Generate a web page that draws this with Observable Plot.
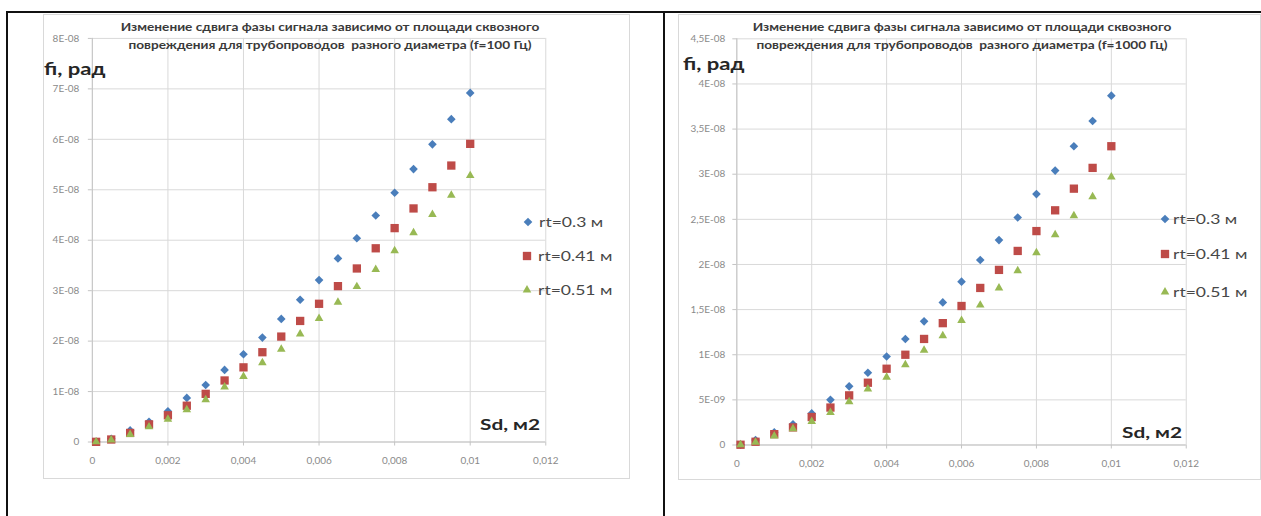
<!DOCTYPE html>
<html>
<head>
<meta charset="utf-8">
<script src="https://cdn.jsdelivr.net/npm/d3@7"></script>
<script src="https://cdn.jsdelivr.net/npm/@observablehq/plot@0.6"></script>
<style>
  html, body { margin: 0; padding: 0; background: #fff; }
  body { position: relative; width: 1261px; height: 516px; overflow: hidden; font-family: Lato, "Open Sans", sans-serif; }
  .bline { position: absolute; background: #111; }
  .box { position: absolute; border: 1px solid #d9d9d9; box-sizing: border-box; background: #fff; }
  .box svg { position: absolute; left: -1px; top: -1px; }
  .title { position: absolute; width: 600px; text-align: center; font-weight: 700; font-size: 10.5px; line-height: 18px; color: #3a3a3a; white-space: pre; transform: scaleX(1.3); transform-origin: 50% 50%; }
  .atitle { position: absolute; font-weight: 700; color: #262626; white-space: pre; transform: scaleX(1.3); transform-origin: 0 50%; }
  .leg { position: absolute; height: 20px; line-height: 20px; white-space: pre; }
  .leg svg { position: absolute; left: 0; top: 0; }
  .leg span { position: absolute; font-size: 13.5px; color: #484848; transform: scaleX(1.3); transform-origin: 0 50%; }
</style>
</head>
<body>
<div class="bline" style="left:6px;top:11px;width:1255px;height:2px"></div>
<div class="bline" style="left:6px;top:11px;width:2px;height:505px"></div>
<div class="bline" style="left:663px;top:11px;width:2px;height:505px"></div>
<script>
// ---------- data ----------
const sd = [0.0001, 0.0005, 0.001, 0.0015, 0.002, 0.0025, 0.003, 0.0035, 0.004, 0.0045, 0.005,
            0.0055, 0.006, 0.0065, 0.007, 0.0075, 0.008, 0.0085, 0.009, 0.0095, 0.01];
const seriesNames = ["rt=0.3 м", "rt=0.41 м", "rt=0.51 м"];

// phase shift, in units of 1E-08 rad, f = 100 Hz
const fi100_rt030 = [0.005, 0.065, 0.23, 0.40, 0.61, 0.875, 1.13, 1.43, 1.74, 2.07, 2.44, 2.82, 3.21, 3.64, 4.04, 4.49, 4.94, 5.41, 5.90, 6.40, 6.92];
const fi100_rt041 = [0.004, 0.05, 0.18, 0.35, 0.53, 0.72, 0.955, 1.22, 1.48, 1.78, 2.09, 2.40, 2.74, 3.09, 3.44, 3.84, 4.24, 4.63, 5.05, 5.48, 5.91];
const fi100_rt051 = [0.003, 0.04, 0.15, 0.30, 0.45, 0.64, 0.84, 1.09, 1.30, 1.57, 1.84, 2.14, 2.45, 2.77, 3.08, 3.42, 3.79, 4.15, 4.51, 4.89, 5.28];

// phase shift, in units of 1E-08 rad, f = 1000 Hz
const fi1000_rt030 = [0.004, 0.055, 0.14, 0.23, 0.35, 0.50, 0.65, 0.80, 0.98, 1.175, 1.37, 1.58, 1.81, 2.05, 2.27, 2.52, 2.78, 3.04, 3.31, 3.59, 3.87];
const fi1000_rt041 = [0.003, 0.036, 0.12, 0.195, 0.31, 0.415, 0.55, 0.69, 0.845, 1.00, 1.175, 1.35, 1.54, 1.74, 1.94, 2.15, 2.37, 2.60, 2.84, 3.07, 3.31];
const fi1000_rt051 = [0.002, 0.03, 0.10, 0.18, 0.26, 0.36, 0.48, 0.62, 0.75, 0.89, 1.05, 1.21, 1.38, 1.55, 1.74, 1.93, 2.13, 2.33, 2.54, 2.75, 2.97];

const xTicks = [0, 0.002, 0.004, 0.006, 0.008, 0.01, 0.012];
const xTickLabels = ["0", "0,002", "0,004", "0,006", "0,008", "0,01", "0,012"];
const yTicks100 = [0, 1e-8, 2e-8, 3e-8, 4e-8, 5e-8, 6e-8, 7e-8, 8e-8];
const yTickLabels100 = ["0", "1E-08", "2E-08", "3E-08", "4E-08", "5E-08", "6E-08", "7E-08", "8E-08"];
const yTicks1000 = [0, 5e-9, 1e-8, 1.5e-8, 2e-8, 2.5e-8, 3e-8, 3.5e-8, 4e-8, 4.5e-8];
const yTickLabels1000 = ["0", "5E-09", "1E-08", "1,5E-08", "2E-08", "2,5E-08", "3E-08", "3,5E-08", "4E-08", "4,5E-08"];

const titleLine1 = "Изменение сдвига фазы сигнала зависимо от площади сквозного";
const titleLine2_100 = "повреждения для трубопроводов  разного диаметра (f=100 Гц)";
const titleLine2_1000 = "повреждения для трубопроводов  разного диаметра (f=1000 Гц)";
const yTitle = "fi, рад";
const xTitle = "Sd, м2";

// ---------- styling ----------
const colors = ["#4a7ebb", "#be4b48", "#98b954"];
const symbols = ["diamond2", "square", "triangle"];
const radii = [3.9, 4.7, 3.2];

function addEl(html) {
  const t = document.createElement("div");
  t.innerHTML = html;
  const el = t.firstElementChild;
  document.body.appendChild(el);
  return el;
}

function legendSymbol(k) {
  const sym = { diamond2: d3.symbolDiamond2, square: d3.symbolSquare, triangle: d3.symbolTriangle }[symbols[k]];
  const p = d3.symbol(sym, radii[k] * radii[k] * Math.PI)();
  return `<svg width="20" height="20" viewBox="-10 -10 20 20"><path d="${p}" fill="${colors[k]}"/></svg>`;
}

function drawChart(cfg) {
  const rows = [];
  cfg.values.forEach((vals, k) => vals.forEach((v, i) => rows.push({ sd: sd[i], fi: v * 1e-8, s: seriesNames[k] })));
  const xLab = new Map(xTicks.map((t, i) => [t, xTickLabels[i]]));
  const yLab = new Map(cfg.yTicks.map((t, i) => [t, cfg.yLabels[i]]));

  const box = addEl(`<div class="box" style="left:${cfg.left}px;top:${cfg.top}px;width:${cfg.width}px;height:${cfg.height}px"></div>`);

  const svg = Plot.plot({
    width: cfg.width,
    height: cfg.height,
    marginLeft: cfg.mL, marginRight: cfg.mR, marginTop: cfg.mT, marginBottom: cfg.mB,
    x: { domain: [0, 0.012] },
    y: { domain: [0, cfg.yMax] },
    style: { fontFamily: "Lato, 'Open Sans', sans-serif", fontSize: "10px", color: "#8a8a8a", background: "transparent", overflow: "visible" },
    marks: [
      Plot.gridX(xTicks, { stroke: "#d9d9d9", strokeOpacity: 1 }),
      Plot.gridY(cfg.yTicks, { stroke: "#d9d9d9", strokeOpacity: 1 }),
      Plot.ruleX([0], { stroke: "#c4c4c4" }),
      Plot.ruleY([0], { stroke: "#c4c4c4" }),
      Plot.axisX(xTicks, { tickFormat: d => xLab.get(d), tickSize: 4, tickPadding: 11, stroke: "#c4c4c4", label: null }),
      Plot.axisY(cfg.yTicks, { tickFormat: d => yLab.get(d), tickSize: 4, tickPadding: cfg.yPad, stroke: "#c4c4c4", label: null }),
      ...seriesNames.map((s, k) => Plot.dot(rows.filter(r => r.s === s), {
        x: "sd", y: "fi", symbol: symbols[k], r: radii[k], fill: colors[k], stroke: "none"
      }))
    ]
  });
  box.appendChild(svg);

  addEl(`<div class="title" style="left:${cfg.titleCx - 300}px;top:18px">${titleLine1}<br>${cfg.title2}</div>`);
  addEl(`<div class="atitle" style="left:${cfg.yTitle[0]}px;top:${cfg.yTitle[1] - 11}px;font-size:17px;line-height:22px">${yTitle}</div>`);
  addEl(`<div class="atitle" style="left:${cfg.xTitle[0]}px;top:${cfg.xTitle[1] - 11}px;font-size:16px;line-height:22px">${xTitle}</div>`);

  seriesNames.forEach((s, k) => {
    const [mx, my] = cfg.legend[k];
    addEl(`<div class="leg" style="left:${mx - 10}px;top:${my - 10}px">${legendSymbol(k)}<span style="left:${cfg.legTextDx}px;top:0">${s}</span></div>`);
  });
}

drawChart({
  left: 43, top: 14, width: 587, height: 465,
  mL: 49, mR: 83, mT: 24, mB: 36,
  yMax: 8e-8, yTicks: yTicks100, yLabels: yTickLabels100, yPad: 9,
  values: [fi100_rt030, fi100_rt041, fi100_rt051],
  titleCx: 330, title2: titleLine2_100,
  yTitle: [44, 69], xTitle: [480, 424],
  legend: [[527.5, 222], [527, 255.5], [527, 290]], legTextDx: 21
});

drawChart({
  left: 678, top: 14, width: 583, height: 466,
  mL: 58.5, mR: 73.5, mT: 24.4, mB: 34,
  yMax: 4.5e-8, yTicks: yTicks1000, yLabels: yTickLabels1000, yPad: 7.5,
  values: [fi1000_rt030, fi1000_rt041, fi1000_rt051],
  titleCx: 962, title2: titleLine2_1000,
  yTitle: [683, 64], xTitle: [1122, 432],
  legend: [[1164.5, 219], [1165, 253.5], [1164.5, 291.5]], legTextDx: 18
});
</script>
</body>
</html>
